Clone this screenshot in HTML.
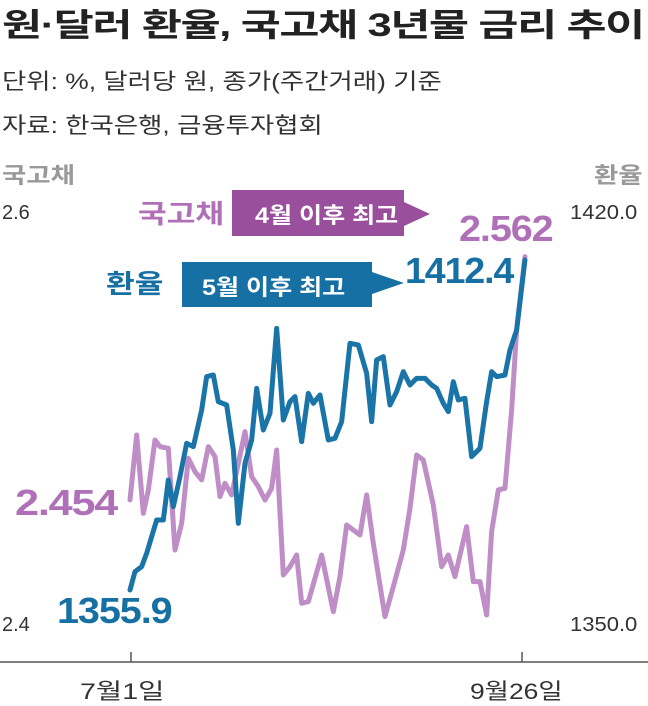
<!DOCTYPE html>
<html><head><meta charset="utf-8"><style>
body{margin:0;width:648px;height:702px;background:#fff;position:relative;overflow:hidden;font-family:"Liberation Sans","Noto Sans CJK KR",sans-serif;}
.t{position:absolute;white-space:nowrap;transform-origin:left top;}
</style></head><body>
<div class="t" style="left:2px;top:0px;font-size:32px;font-weight:bold;color:#222;letter-spacing:-1px;transform:scaleX(1.36);">원·달러 환율, 국고채 3년물 금리 추이</div>
<div class="t" style="left:2px;top:64px;font-size:22px;color:#333;transform:scaleX(1.2);">단위: %, 달러당 원, 종가(주간거래) 기준</div>
<div class="t" style="left:2px;top:108px;font-size:22px;color:#333;transform:scaleX(1.2);">자료: 한국은행, 금융투자협회</div>
<div class="t" style="left:2px;top:158px;font-size:22px;color:#999;font-weight:bold;transform:scaleX(1.2);">국고채</div>
<div class="t" style="left:594px;top:158px;font-size:22px;color:#999;font-weight:bold;transform:scaleX(1.2);">환율</div>
<div class="t" style="left:2px;top:202px;font-size:20px;color:#333;">2.6</div>
<div class="t" style="left:570px;top:202px;font-size:20px;color:#333;transform:scaleX(1.1);">1420.0</div>
<div class="t" style="left:2px;top:614px;font-size:20px;color:#333;">2.4</div>
<div class="t" style="left:570px;top:614px;font-size:20px;color:#333;transform:scaleX(1.1);">1350.0</div>
<div class="t" style="left:80px;top:674px;font-size:22px;color:#333;transform:scaleX(1.3);">7월1일</div>
<div class="t" style="left:470px;top:674px;font-size:22px;color:#333;transform:scaleX(1.2);">9월26일</div>
<svg width="648" height="702" style="position:absolute;left:0;top:0">
<line x1="0" y1="662" x2="648" y2="662" stroke="#555" stroke-width="1.5"/>
<line x1="131" y1="652" x2="131" y2="662" stroke="#555" stroke-width="1.5"/>
<line x1="522" y1="652" x2="522" y2="662" stroke="#555" stroke-width="1.5"/>
<polygon points="232,190 404,190 404,202 430,214 404,226 404,236 232,236" fill="#9a4f9c"/>
<polygon points="182,262 372,262 372,272 404,283 372,294 372,307 182,307" fill="#1670a4"/>
<g transform="translate(120,250) scale(0.3333)" fill="none" stroke-linejoin="round" stroke-linecap="round">
<polyline stroke="#c08ec7" stroke-width="15" points="30,750 50,555 70,790 85,720 105,570 120,590 145,595 165,900 185,820 205,625 225,665 245,690 265,590 285,620 300,740 315,700 335,735 375,545 395,680 415,710 435,750 455,715 470,600 490,975 510,950 530,915 545,1060 565,1055 605,915 640,1085 660,980 680,825 700,840 720,855 740,735 760,880 795,1100 820,1010 850,900 870,775 890,615 910,630 940,765 965,950 985,915 1005,980 1040,830 1060,995 1080,995 1100,1095 1115,845 1135,720 1155,715 1175,480 1190,240 1215,20"/>
<polyline stroke="#1a74a8" stroke-width="15" points="30,1020 45,965 65,950 80,910 95,860 110,810 130,810 145,690 160,770 180,680 200,580 220,590 245,480 260,380 280,375 295,455 320,465 340,600 355,820 375,640 395,570 410,415 430,540 450,490 470,235 490,510 510,455 525,440 545,575 565,430 580,460 600,435 625,570 645,565 665,515 690,280 715,285 740,370 755,515 770,330 790,320 810,465 830,425 850,365 870,405 890,385 915,385 935,405 950,415 970,460 985,485 1000,395 1015,450 1035,445 1055,620 1080,595 1100,455 1115,365 1130,380 1155,375 1170,300 1190,240 1215,30"/>
</g>
</svg>
<div class="t" style="left:138px;top:194px;font-size:26px;font-weight:bold;color:#b070b8;transform:scaleX(1.2);">국고채</div>
<div class="t" style="left:255px;top:198px;font-size:22px;font-weight:bold;color:#fff;transform:scaleX(1.14);">4월 이후 최고</div>
<div class="t" style="left:459px;top:208px;font-size:36px;font-weight:bold;color:#b070b8;letter-spacing:-1px;transform:scaleX(1.1);">2.562</div>
<div class="t" style="left:106px;top:264px;font-size:26px;font-weight:bold;color:#1670a4;transform:scaleX(1.2);">환율</div>
<div class="t" style="left:202px;top:270px;font-size:22px;font-weight:bold;color:#fff;transform:scaleX(1.14);">5월 이후 최고</div>
<div class="t" style="left:405px;top:250px;font-size:36px;font-weight:bold;color:#1670a4;letter-spacing:-1px;transform:scaleX(1.04);">1412.4</div>
<div class="t" style="left:15px;top:482px;font-size:36px;font-weight:bold;color:#b070b8;letter-spacing:-1px;transform:scaleX(1.2);">2.454</div>
<div class="t" style="left:57px;top:590px;font-size:36px;font-weight:bold;color:#1670a4;letter-spacing:-1px;transform:scaleX(1.1);">1355.9</div>
</body></html>
